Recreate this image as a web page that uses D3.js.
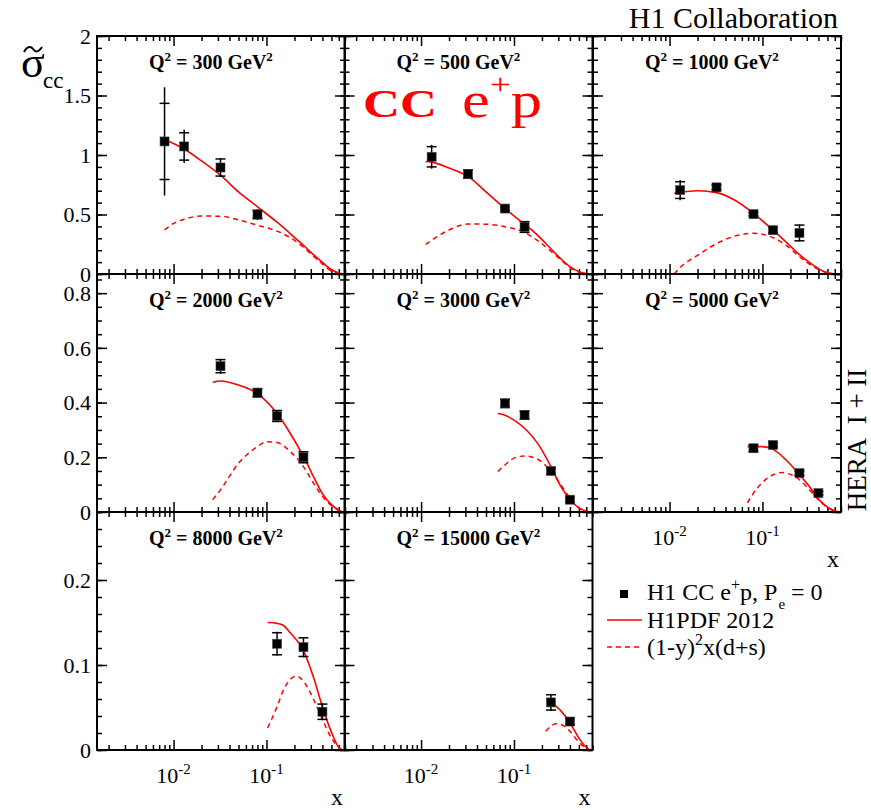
<!DOCTYPE html>
<html>
<head>
<meta charset="utf-8">
<script src="https://cdn.jsdelivr.net/npm/d3@7"></script>
<style>
  html, body { margin: 0; padding: 0; background: #fff; }
  svg { display: block; }
  text { font-family: "Liberation Serif", "Times New Roman", serif; }
</style>
</head>
<body>
<svg id="chart" width="871" height="810"></svg>
<script>
const Q2 = [300, 500, 1000, 2000, 3000, 5000, 8000, 15000];

const ptX = [
  [0.008, 0.013, 0.032, 0.08],
  [0.013, 0.032, 0.08, 0.13],
  [0.013, 0.032, 0.08, 0.13, 0.25],
  [0.032, 0.08, 0.13, 0.25],
  [0.08, 0.13, 0.25, 0.4],
  [0.08, 0.13, 0.25, 0.4],
  [0.13, 0.25, 0.4],
  [0.25, 0.4]
];
const ptY = [
  [1.114, 1.072, 0.895, 0.50],
  [0.985, 0.84, 0.55, 0.395],
  [0.705, 0.728, 0.503, 0.368, 0.345],
  [0.533, 0.436, 0.351, 0.200],
  [0.397, 0.354, 0.150, 0.045],
  [0.233, 0.245, 0.142, 0.069],
  [0.125, 0.121, 0.045],
  [0.056, 0.0335]
];
const statErr = [
  [0.32, 0.115, 0.072, 0.035],
  [0.085, 0.035, 0.015, 0.045],
  [0.07, 0.02, 0.015, 0.02, 0.066],
  [0.024, 0.015, 0.02, 0.02],
  [0.015, 0.015, 0.01, 0.008],
  [0.012, 0.008, 0.008, 0.006],
  [0.013, 0.011, 0.009],
  [0.009, 0.004]
];
const totErr = [
  [0.455, 0.14, 0.08, 0.045],
  [0.10, 0.04, 0.02, 0.05],
  [0.085, 0.025, 0.02, 0.025, 0.07],
  [0.027, 0.018, 0.022, 0.022],
  [0.017, 0.017, 0.012, 0.009],
  [0.014, 0.01, 0.01, 0.007],
  [0.014, 0.012, 0.01],
  [0.01, 0.005]
];

// H1PDF 2012 (solid)
const solidX = [
  [0.008, 0.013, 0.02, 0.032, 0.05, 0.08, 0.13, 0.18, 0.25, 0.32, 0.4, 0.5, 0.65],
  [0.0112, 0.013, 0.02, 0.032, 0.05, 0.08, 0.13, 0.18, 0.25, 0.32, 0.4, 0.5, 0.65],
  [0.0112, 0.013, 0.02, 0.032, 0.05, 0.08, 0.13, 0.18, 0.25, 0.32, 0.4, 0.5, 0.65],
  [0.0264, 0.032, 0.05, 0.08, 0.13, 0.18, 0.25, 0.32, 0.4, 0.5, 0.65],
  [0.067, 0.08, 0.1, 0.13, 0.18, 0.25, 0.32, 0.4, 0.5, 0.65],
  [0.069, 0.08, 0.1, 0.13, 0.18, 0.25, 0.32, 0.4, 0.5, 0.65],
  [0.103, 0.13, 0.15, 0.18, 0.25, 0.32, 0.4, 0.5, 0.6, 0.65],
  [0.25, 0.32, 0.4, 0.5, 0.6, 0.65]
];
const solidY = [
  [1.13, 1.05, 0.95, 0.83, 0.69, 0.565, 0.435, 0.34, 0.24, 0.163, 0.097, 0.036, 0.0],
  [0.945, 0.94, 0.89, 0.82, 0.69, 0.55, 0.418, 0.325, 0.212, 0.127, 0.062, 0.02, 0.0],
  [0.678, 0.687, 0.70, 0.684, 0.622, 0.51, 0.368, 0.268, 0.163, 0.097, 0.046, 0.011, 0.0],
  [0.474, 0.479, 0.464, 0.433, 0.36, 0.288, 0.203, 0.13, 0.067, 0.027, 0.0],
  [0.36, 0.354, 0.336, 0.306, 0.251, 0.166, 0.093, 0.047, 0.015, 0.0],
  [0.239, 0.239, 0.239, 0.229, 0.19, 0.136, 0.093, 0.047, 0.018, 0.0],
  [0.150, 0.149, 0.147, 0.138, 0.117, 0.086, 0.051, 0.021, 0.003, 0.0],
  [0.056, 0.046, 0.032, 0.014, 0.003, 0.0]
];

// (1-y)^2 x(d+s) (dashed)
const dashX = [
  [0.008, 0.01, 0.013, 0.02, 0.032, 0.05, 0.08, 0.13, 0.18, 0.25, 0.32, 0.4, 0.5, 0.65],
  [0.0112, 0.013, 0.02, 0.032, 0.05, 0.08, 0.13, 0.18, 0.25, 0.32, 0.4, 0.5, 0.65],
  [0.0112, 0.013, 0.02, 0.032, 0.05, 0.08, 0.13, 0.18, 0.25, 0.32, 0.4, 0.5, 0.65],
  [0.0264, 0.032, 0.05, 0.08, 0.1, 0.13, 0.18, 0.25, 0.32, 0.4, 0.5, 0.65],
  [0.067, 0.08, 0.1, 0.13, 0.18, 0.25, 0.32, 0.4, 0.5, 0.65],
  [0.069, 0.08, 0.1, 0.13, 0.16, 0.18, 0.25, 0.32, 0.4, 0.5, 0.65],
  [0.103, 0.13, 0.15, 0.18, 0.21, 0.25, 0.32, 0.4, 0.5, 0.65],
  [0.22, 0.25, 0.28, 0.32, 0.4, 0.5, 0.6, 0.65]
];
const dashY = [
  [0.37, 0.425, 0.46, 0.487, 0.485, 0.455, 0.41, 0.36, 0.305, 0.225, 0.15, 0.084, 0.025, 0.0],
  [0.248, 0.284, 0.37, 0.42, 0.418, 0.397, 0.35, 0.28, 0.192, 0.118, 0.054, 0.015, 0.0],
  [0.0, 0.055, 0.157, 0.255, 0.318, 0.342, 0.305, 0.24, 0.146, 0.083, 0.04, 0.01, 0.0],
  [0.045, 0.081, 0.178, 0.239, 0.257, 0.254, 0.221, 0.166, 0.106, 0.057, 0.023, 0.0],
  [0.148, 0.172, 0.197, 0.205, 0.193, 0.148, 0.099, 0.051, 0.015, 0.0],
  [0.033, 0.069, 0.108, 0.136, 0.144, 0.142, 0.118, 0.081, 0.045, 0.016, 0.0],
  [0.026, 0.051, 0.069, 0.083, 0.087, 0.081, 0.06, 0.036, 0.014, 0.0],
  [0.022, 0.028, 0.031, 0.030, 0.022, 0.009, 0.002, 0.0]
];

// axis setup per row
const xDomain = [0.0015, 0.7];
const yDomains = [[0, 2], [0, 0.87], [0, 0.28]];
const yMajor = [[0, 0.5, 1, 1.5, 2], [0, 0.2, 0.4, 0.6, 0.8], [0, 0.1, 0.2]];
const yLabels = [["0", "0.5", "1", "1.5", "2"], ["0", "0.2", "0.4", "0.6", "0.8"], ["0", "0.1", "0.2"]];
const yMinorStep = [0.1, 0.05, 0.02];
const xLabelExp = ["-2", "-1"];

// --- layout ---
const W = 248, H = 238;
const colX = [97, 344.5, 593];
const rowY = [36, 274, 512];
const RED = "#ff0000";

const svg = d3.select("#chart");

function axisStyle(g) {
  g.select(".domain").remove();
  g.selectAll(".tick line").attr("stroke", "#000").attr("stroke-width", 1.5);
}

Q2.forEach((q, i) => {
  const row = Math.floor(i / 3), col = i % 3;
  const g = svg.append("g").attr("transform", `translate(${colX[col]},${rowY[row]})`);
  const x = d3.scaleLog().domain(xDomain).range([0, W]);
  const y = d3.scaleLinear().domain(yDomains[row]).range([H, 0]);

  const xAll = x.ticks();
  const xMaj = xAll.filter((v) => Math.abs(Math.log10(v) - Math.round(Math.log10(v))) < 1e-6);
  const xMin = xAll.filter((v) => !xMaj.includes(v));
  const yMin = d3.range(0, yDomains[row][1] + 1e-9, yMinorStep[row]);

  // ticks on all four sides, pointing inward
  [[d3.axisBottom, `translate(0,${H})`, xMaj, 10, x], [d3.axisBottom, `translate(0,${H})`, xMin, 5, x],
   [d3.axisTop, "translate(0,0)", xMaj, 10, x], [d3.axisTop, "translate(0,0)", xMin, 5, x],
   [d3.axisLeft, "translate(0,0)", yMajor[row], 10, y], [d3.axisLeft, "translate(0,0)", yMin, 5, y],
   [d3.axisRight, `translate(${W},0)`, yMajor[row], 10, y], [d3.axisRight, `translate(${W},0)`, yMin, 5, y]]
    .forEach(([ax, tr, vals, len, sc]) => {
      g.append("g").attr("transform", tr)
        .call(ax(sc).tickValues(vals).tickSize(-len).tickFormat(""))
        .call(axisStyle);
    });

  // y labels for first column
  if (col === 0) {
    g.selectAll(".ylab").data(yMajor[row]).join("text")
      .attr("x", -6).attr("y", (d) => y(d)).attr("dy", "0.36em")
      .attr("text-anchor", "end").attr("font-size", 22)
      .text((d, k) => yLabels[row][k]);
  }

  // x labels for the lowest panel in each column
  if (i >= 5) {
    const t = g.selectAll(".xlab").data(xMaj).join("text")
      .attr("x", (d) => x(d)).attr("y", H + 33)
      .attr("text-anchor", "middle").attr("font-size", 22);
    t.append("tspan").text("10");
    t.append("tspan").attr("font-size", 15).attr("dy", -9).text((d, k) => xLabelExp[k]);
    g.append("text").attr("x", W - 2).attr("y", H + 55).attr("text-anchor", "end")
      .attr("font-size", 24).text("x");
  }

  // curves
  const line = d3.line().x((d) => x(d[0])).y((d) => y(d[1])).curve(d3.curveMonotoneX);
  g.append("path").datum(d3.zip(dashX[i], dashY[i])).attr("d", line)
    .attr("fill", "none").attr("stroke", RED).attr("stroke-width", 1.5)
    .attr("stroke-dasharray", "5,4");
  g.append("path").datum(d3.zip(solidX[i], solidY[i])).attr("d", line)
    .attr("fill", "none").attr("stroke", RED).attr("stroke-width", 1.6);

  // data points with error bars: full line = total, ticks = stat
  const pts = ptX[i].map((v, k) => ({ x: v, y: ptY[i][k], s: statErr[i][k], t: totErr[i][k] }));
  const pg = g.selectAll(".pt").data(pts).join("g");
  pg.append("line").attr("x1", (d) => x(d.x)).attr("x2", (d) => x(d.x))
    .attr("y1", (d) => y(d.y + d.t)).attr("y2", (d) => y(d.y - d.t))
    .attr("stroke", "#000").attr("stroke-width", 1.5);
  [1, -1].forEach((sgn) => {
    pg.append("line").attr("x1", (d) => x(d.x) - 5).attr("x2", (d) => x(d.x) + 5)
      .attr("y1", (d) => y(d.y + sgn * d.s)).attr("y2", (d) => y(d.y + sgn * d.s))
      .attr("stroke", "#000").attr("stroke-width", 1.5);
  });
  pg.append("rect").attr("x", (d) => x(d.x) - 4.5).attr("y", (d) => y(d.y) - 4.5)
    .attr("width", 9).attr("height", 9).attr("fill", "#000")
    .attr("stroke", "#444").attr("stroke-width", 0.6);

  // panel title
  const tt = g.append("text").attr("x", 52).attr("y", 33)
    .attr("font-size", 20).attr("font-weight", "bold");
  tt.append("tspan").text("Q");
  tt.append("tspan").attr("font-size", 13).attr("dy", -8).text("2");
  tt.append("tspan").attr("dy", 8).text(` = ${q} GeV`);
  tt.append("tspan").attr("font-size", 13).attr("dy", -8).text("2");

  // frame
  g.append("rect").attr("width", W).attr("height", H)
    .attr("fill", "none").attr("stroke", "#000").attr("stroke-width", 2);
});

// --- annotations ---
svg.append("text").attr("x", 838).attr("y", 28).attr("text-anchor", "end")
  .attr("font-size", 30).text("H1 Collaboration");

svg.append("text").attr("transform", "translate(866,440) rotate(-90)")
  .attr("text-anchor", "middle").attr("font-size", 27).text("HERA\u00a0\u00a0I + II");

// y title: sigma-tilde_cc
svg.append("text").attr("x", 21).attr("y", 77).attr("font-size", 44).text("σ");
svg.append("path").attr("d", "M24,52 C27,46 31,46 33,49 S38,53 42,47")
  .attr("fill", "none").attr("stroke", "#000").attr("stroke-width", 2);
svg.append("text").attr("x", 43).attr("y", 88).attr("font-size", 23).text("cc");

// CC e+p tag
svg.append("text").attr("x", 363).attr("y", 117)
  .attr("font-family", "'Liberation Sans', Arial, sans-serif").attr("font-weight", "bold")
  .attr("font-size", 40).attr("fill", RED)
  .attr("textLength", 74).attr("lengthAdjust", "spacingAndGlyphs").text("CC");
const ep = svg.append("text").attr("x", 462).attr("y", 117).attr("font-size", 50).attr("fill", RED)
  .attr("textLength", 80).attr("lengthAdjust", "spacingAndGlyphs");
ep.append("tspan").text("e");
ep.append("tspan").attr("font-size", 30).attr("dy", -23).text("+");
ep.append("tspan").attr("dy", 23).text("p");

// legend
const lg = svg.append("g");
lg.append("rect").attr("x", 620).attr("y", 590).attr("width", 8).attr("height", 8).attr("fill", "#000");
const l1 = lg.append("text").attr("x", 647).attr("y", 600).attr("font-size", 24);
l1.append("tspan").text("H1 CC e");
l1.append("tspan").attr("font-size", 16).attr("dy", -10).text("+");
l1.append("tspan").attr("dy", 10).text("p, P");
l1.append("tspan").attr("font-size", 15).attr("dy", 9).attr("dx", 1).text("e");
l1.append("tspan").attr("dy", -9).text(" = 0");

lg.append("line").attr("x1", 607).attr("x2", 642).attr("y1", 620).attr("y2", 620)
  .attr("stroke", RED).attr("stroke-width", 1.5);
lg.append("text").attr("x", 647).attr("y", 628).attr("font-size", 24).text("H1PDF 2012");

lg.append("line").attr("x1", 607).attr("x2", 642).attr("y1", 647).attr("y2", 647)
  .attr("stroke", RED).attr("stroke-width", 1.5).attr("stroke-dasharray", "5,4");
const l3 = lg.append("text").attr("x", 647).attr("y", 655).attr("font-size", 24);
l3.append("tspan").text("(1-y)");
l3.append("tspan").attr("font-size", 16).attr("dy", -10).text("2");
l3.append("tspan").attr("dy", 10).text("x(d+s)");
</script>
</body>
</html>
